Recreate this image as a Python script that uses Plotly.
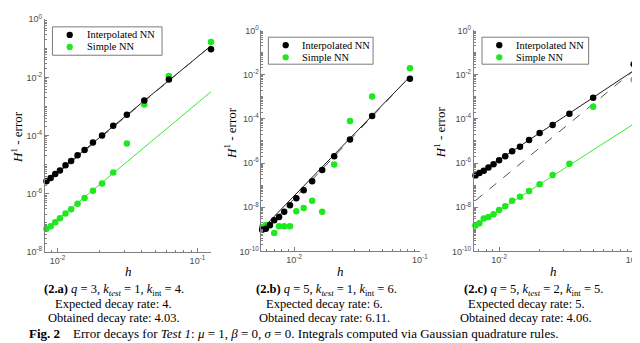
import plotly.graph_objects as go

# ---------------- data ----------------
h_a = [0.00833, 0.00893, 0.00962, 0.0104, 0.0114, 0.0125, 0.0139, 0.0156,
       0.0179, 0.0208, 0.025, 0.0313, 0.0417, 0.0625, 0.125]
interp_a = [2.7e-6, 3.5e-6, 4.8e-6, 6.3e-6, 9.5e-6, 1.35e-5, 2.1e-5, 3.2e-5,
            5.8e-5, 1.0e-4, 2.2e-4, 5.2e-4, 1.6e-3, 8.5e-3, 9.3e-2]
simple_a = [6.2e-8, 7.6e-8, 1.05e-7, 1.44e-7, 2.1e-7, 2.95e-7, 4.5e-7, 7.1e-7,
            1.26e-6, 2.24e-6, 5.4e-6, 5.4e-5, 1.17e-3, 1.12e-2, 0.165]

h_b = [0.00556, 0.00595, 0.00641, 0.00694, 0.00758, 0.00833, 0.00926, 0.0104,
       0.0119, 0.0139, 0.0167, 0.0208, 0.0278, 0.0417, 0.0833]
interp_b = [9.5e-10, 1.05e-9, 1.58e-9, 2.57e-9, 3.6e-9, 6.3e-9, 1.23e-8, 2.57e-8,
            5.9e-8, 1.48e-7, 4.9e-7, 2.04e-6, 1.17e-5, 1.35e-4, 6.5e-3]
simple_b = [1.26e-9, 1.58e-9, 1.5e-9, 6.8e-10, 1.38e-9, 1.38e-9, 1.38e-9, 6.5e-9,
            9.3e-9, 1.95e-8, 6.3e-9, 8.5e-7, 7.9e-5, 1.02e-3, 1.95e-2]

h_c = [0.00667, 0.00714, 0.00769, 0.00833, 0.00909, 0.01, 0.0111, 0.0125,
       0.0143, 0.0167, 0.02, 0.025, 0.0333, 0.05, 0.1]
interp_c = [2.7e-7, 3.55e-7, 4.5e-7, 6.3e-7, 8.7e-7, 1.35e-6, 2.04e-6, 3.4e-6,
            5.5e-6, 1.1e-5, 2.3e-5, 5.2e-5, 1.7e-4, 9.1e-4, 2.95e-2]
simple_c = [1.48e-9, 1.86e-9, 3.1e-9, 3.6e-9, 4.8e-9, 7.4e-9, 1.1e-8, 1.95e-8,
            3.0e-8, 5.4e-8, 1.1e-7, 2.9e-7, 9.3e-7, 3.5e-4, 5.9e-3]

# fitted / reference rates and anchors (value at smallest h)
fit_rate = [3.96, 5.86, 4.04]
fit_anchor = [2.7e-6, 1.05e-9, 2.7e-7]
expected_rate = [4, 6, 5]
green_rate = [4.01, None, 3.91]
green_anchor = [6.2e-8, None, 1.48e-9]

series_names = ["Interpolated NN", "Simple NN"]
x_tick_vals = [0.01, 0.1]
x_tick_text = ["10<sup>-2</sup>", "10<sup>-1</sup>"]
y_tick_vals_a = [1e-8, 1e-6, 1e-4, 1e-2, 1]
y_tick_text_a = ["10<sup>-8</sup>", "10<sup>-6</sup>", "10<sup>-4</sup>", "10<sup>-2</sup>", "10<sup>0</sup>"]
y_tick_vals_bc = [1e-10, 1e-8, 1e-6, 1e-4, 1e-2, 1]
y_tick_text_bc = ["10<sup>-10</sup>", "10<sup>-8</sup>", "10<sup>-6</sup>", "10<sup>-4</sup>", "10<sup>-2</sup>", "10<sup>0</sup>"]

captions = [
    ["<b>(2.a)</b> <i>q</i> = 3, <i>k<sub>test</sub></i> = 1, <i>k</i><sub>int</sub> = 4.",
     "Expected decay rate: 4.", "Obtained decay rate: 4.03."],
    ["<b>(2.b)</b> <i>q</i> = 5, <i>k<sub>test</sub></i> = 1, <i>k</i><sub>int</sub> = 6.",
     "Expected decay rate: 6.", "Obtained decay rate: 6.11."],
    ["<b>(2.c)</b> <i>q</i> = 5, <i>k<sub>test</sub></i> = 2, <i>k</i><sub>int</sub> = 5.",
     "Expected decay rate: 5.", "Obtained decay rate: 4.06."],
]
fig_caption = ("<b>Fig. 2</b>\u00a0\u00a0\u00a0\u00a0Error decays for <i>Test 1</i>: <i>μ</i> = 1, "
               "<i>β</i> = 0, <i>σ</i> = 0. Integrals computed via Gaussian quadrature rules.")

# ---------------- layout geometry (pixels) ----------------
W, H = 640, 343
GREEN = "#1ee81e"
SERIF = "Liberation Serif"
SANS = "Liberation Sans"
AXC = "#808080"
TICKC = "#4a4a4a"

panels = [
    dict(h=h_a, bi=interp_a, gs=simple_a, xpx=(37.3, 206), ypx=(4.5, 245.5),
         xr=(-2.091, -0.900), yr=(-8, 0), ytv=y_tick_vals_a, ytt=y_tick_text_a,
         leg=(45, 12.3, 156, 41.7), ytitle=(8.5, 126), cap=(107, 107)),
    dict(h=h_b, bi=interp_b, gs=simple_b, xpx=(256.7, 417.5), ypx=(16.0, 245),
         xr=(-2.26, -0.997), yr=(-10, 0), ytv=y_tick_vals_bc, ytt=y_tick_text_bc,
         leg=(263.7, 23, 369.7, 51), ytitle=(225, 122), cap=(323, 321)),
    dict(h=h_c, bi=interp_c, gs=simple_c, xpx=(471.7, 634), ypx=(16.0, 245),
         xr=(-2.188, -0.997), yr=(-10, 0), ytv=y_tick_vals_bc, ytt=y_tick_text_bc,
         leg=(480, 23, 588, 51), ytitle=(437, 122), cap=(532, 525)),
]

minor_x = [k * 10.0 ** e for e in (-3, -2, -1) for k in range(2, 10)]
minor_y = [k * 10.0 ** e for e in range(-11, 1) for k in range(1, 10)]

fig = go.Figure()
layout = dict(width=W, height=H, margin=dict(l=0, r=0, t=0, b=0),
              paper_bgcolor="white", plot_bgcolor="white", showlegend=False)
annotations = []
shapes = []


def px_x(v):
    return v / W


def px_y(v):
    return 1 - v / H


for i, p in enumerate(panels):
    n = "" if i == 0 else str(i + 1)
    xa, ya = "x" + n, "y" + n
    h = p["h"]
    # reference/fit lines
    r = fit_rate[i]
    a = fit_anchor[i]
    fit_end = a * (h[-1] / h[0]) ** r
    fig.add_trace(go.Scatter(x=[h[0], h[-1]], y=[a, fit_end], mode="lines",
                             line=dict(color="black", width=0.9),
                             xaxis=xa, yaxis=ya, hoverinfo="skip"))
    er = expected_rate[i]
    ref_start = fit_end * (h[0] / h[-1]) ** er
    fig.add_trace(go.Scatter(x=[h[0], h[-1]], y=[ref_start, fit_end], mode="lines",
                             line=dict(color="#404040", width=0.9, dash="dash"),
                             xaxis=xa, yaxis=ya, hoverinfo="skip"))
    if green_rate[i] is not None:
        g0 = green_anchor[i]
        fig.add_trace(go.Scatter(x=[h[0], h[-1]], y=[g0, g0 * (h[-1] / h[0]) ** green_rate[i]],
                                 mode="lines", line=dict(color=GREEN, width=0.9),
                                 xaxis=xa, yaxis=ya, hoverinfo="skip"))
    fig.add_trace(go.Scatter(x=h, y=p["gs"], mode="markers", name=series_names[1],
                             marker=dict(color=GREEN, size=6.5),
                             xaxis=xa, yaxis=ya, cliponaxis=False))
    fig.add_trace(go.Scatter(x=h, y=p["bi"], mode="markers", name=series_names[0],
                             marker=dict(color="black", size=6.5),
                             xaxis=xa, yaxis=ya, cliponaxis=False))

    x0, x1 = p["xpx"]
    y0, y1 = p["ypx"]
    layout["xaxis" + n] = dict(
        type="log", range=list(p["xr"]), domain=[x0 / W, x1 / W], anchor=ya,
        showline=True, linecolor=AXC, linewidth=1, showgrid=False, zeroline=False,
        ticks="inside", ticklen=4, tickcolor=AXC, tickmode="array",
        tickvals=x_tick_vals, ticktext=x_tick_text,
        tickfont=dict(family=SANS, size=9, color=TICKC),
        minor=dict(tickmode="array", tickvals=minor_x, ticks="inside", ticklen=2,
                   tickcolor=AXC, showgrid=False))
    layout["yaxis" + n] = dict(
        type="log", range=list(p["yr"]), domain=[1 - y1 / H, 1 - y0 / H], anchor=xa,
        showline=True, linecolor=AXC, linewidth=1, showgrid=False, zeroline=False,
        ticks="inside", ticklen=4, tickcolor=AXC, tickmode="array",
        tickvals=p["ytv"], ticktext=p["ytt"],
        tickfont=dict(family=SANS, size=9, color=TICKC),
        minor=dict(tickmode="array", tickvals=minor_y, ticks="inside", ticklen=2,
                   tickcolor=AXC, showgrid=False))

    # legend (box, marker symbols, labels)
    lx0, ly0, lx1, ly1 = p["leg"]
    shapes.append(dict(type="rect", xref="paper", yref="paper",
                       x0=px_x(lx0), x1=px_x(lx1), y0=px_y(ly1), y1=px_y(ly0),
                       line=dict(color="#7a7a7a", width=1), fillcolor="white", layer="above"))
    for k, (name, col) in enumerate(zip(series_names, ["black", GREEN])):
        cy = ly0 + 8.3 + k * 12.5
        cx = lx0 + 17.5
        rr = 3.2
        shapes.append(dict(type="circle", xref="paper", yref="paper",
                           x0=px_x(cx - rr), x1=px_x(cx + rr), y0=px_y(cy + rr), y1=px_y(cy - rr),
                           line=dict(width=0), fillcolor=col, layer="above"))
        annotations.append(dict(text=name, xref="paper", yref="paper", x=px_x(lx0 + 32.5),
                                y=px_y(cy), xanchor="left", yanchor="middle", showarrow=False,
                                font=dict(family=SERIF, size=10.4, color="black")))

    # axis titles
    annotations.append(dict(text="<i>h</i>", xref="paper", yref="paper",
                            x=px_x((x0 + x1) / 2), y=px_y(266), xanchor="center", yanchor="middle",
                            showarrow=False, font=dict(family=SERIF, size=13, color="black")))
    tx, ty = p["ytitle"]
    annotations.append(dict(text="<i>H</i><sup>1</sup> - error", xref="paper", yref="paper",
                            x=px_x(tx), y=px_y(ty), xanchor="center", yanchor="middle",
                            showarrow=False, textangle=-90,
                            font=dict(family=SERIF, size=13, color="black")))
    c1, c2 = p["cap"]
    for txt, yy, cx in zip(captions[i], (285, 299.5, 313.5), (c1, c2, c2)):
        annotations.append(dict(text=txt, xref="paper", yref="paper", x=px_x(cx), y=px_y(yy),
                                xanchor="center", yanchor="middle", showarrow=False,
                                font=dict(family=SERIF, size=12.5, color="black")))

annotations.append(dict(text=fig_caption, xref="paper", yref="paper", x=px_x(289), y=px_y(330.5),
                        xanchor="center", yanchor="middle", showarrow=False,
                        font=dict(family=SERIF, size=13, color="black")))
layout["annotations"] = annotations
layout["shapes"] = shapes
fig.update_layout(**layout)
fig.write_html("out.html")
